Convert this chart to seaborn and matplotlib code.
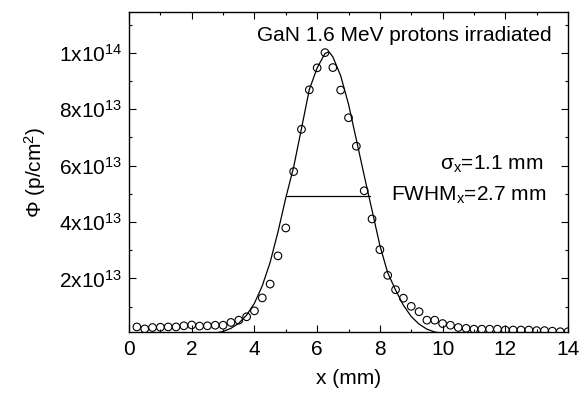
import numpy as np
import pandas as pd
import matplotlib
matplotlib.use("Agg")
import matplotlib.pyplot as plt
from matplotlib.ticker import FixedLocator, FixedFormatter, MultipleLocator
import seaborn as sns

# ---- data (fluence in units of 1e13 p/cm^2) ----
meas_x = [0.25, 0.5, 0.75, 1.0, 1.25, 1.5, 1.75, 2.0, 2.25, 2.5, 2.75, 3.0,
          3.25, 3.5, 3.75, 4.0, 4.25, 4.5, 4.75, 5.0, 5.25, 5.5, 5.75, 6.0,
          6.25, 6.5, 6.75, 7.0, 7.25, 7.5, 7.75, 8.0, 8.25, 8.5, 8.75, 9.0,
          9.25, 9.5, 9.75, 10.0, 10.25, 10.5, 10.75, 11.0, 11.25, 11.5, 11.75,
          12.0, 12.25, 12.5, 12.75, 13.0, 13.25, 13.5, 13.75, 14.0]
meas_y = [0.28, 0.21, 0.26, 0.27, 0.28, 0.28, 0.32, 0.35, 0.31, 0.32, 0.34, 0.34,
          0.44, 0.52, 0.64, 0.85, 1.31, 1.80, 2.80, 3.79, 5.79, 7.29, 8.69, 9.47,
          10.01, 9.48, 8.68, 7.70, 6.69, 5.11, 4.11, 3.02, 2.11, 1.60, 1.30, 1.01,
          0.82, 0.52, 0.52, 0.40, 0.34, 0.26, 0.23, 0.20, 0.20, 0.20, 0.20,
          0.17, 0.17, 0.17, 0.17, 0.15, 0.15, 0.13, 0.11, 0.11]

fit_x = [0.0, 2.25, 2.5, 2.75, 3.0, 3.25, 3.5, 3.75, 4.0, 4.25, 4.5, 4.75, 5.0,
         5.25, 5.5, 5.75, 6.0, 6.25, 6.375, 6.5, 6.75, 7.0, 7.25, 7.5, 7.75,
         8.0, 8.25, 8.5, 8.75, 9.0, 9.25, 9.5, 9.75, 10.0, 10.25, 10.5, 14.0]
fit_y = [0.0, 0.01, 0.03, 0.06, 0.12, 0.23, 0.41, 0.70, 1.12, 1.74, 2.57, 3.65, 4.86,
         5.95, 7.32, 8.70, 9.47, 9.98, 10.04, 9.86, 9.19, 8.18, 6.92, 5.65, 4.42,
         3.17, 2.20, 1.59, 1.05, 0.65, 0.38, 0.20, 0.10, 0.05, 0.02, 0.0, 0.0]

fwhm_x = [5.03, 7.68]
fwhm_y = [4.93, 4.93]

scale = 1e13
xticks = [0, 2, 4, 6, 8, 10, 12, 14]
xtick_labels = ["0", "2", "4", "6", "8", "10", "12", "14"]
yticks = [2e13, 4e13, 6e13, 8e13, 1e14]
ytick_labels = ["2x10$^{13}$", "4x10$^{13}$", "6x10$^{13}$", "8x10$^{13}$", "1x10$^{14}$"]

title_text = "GaN 1.6 MeV protons irradiated"
sigma_text = "σ$_{\\mathrm{x}}$=1.1 mm"
fwhm_text = "FWHM$_{\\mathrm{x}}$=2.7 mm"

meas = pd.DataFrame({"x": meas_x, "y": np.array(meas_y) * scale})
fit = pd.DataFrame({"x": fit_x, "y": np.array(fit_y) * scale})
fw = pd.DataFrame({"x": fwhm_x, "y": np.array(fwhm_y) * scale})

sns.set_theme(style="ticks")
plt.rcParams["font.family"] = ["Liberation Sans", "DejaVu Sans"]
plt.rcParams["mathtext.fontset"] = "custom"
plt.rcParams["mathtext.rm"] = "Liberation Sans"
plt.rcParams["mathtext.it"] = "Liberation Sans:italic"
plt.rcParams["mathtext.bf"] = "Liberation Sans:bold"

fs = 15
fig = plt.figure(figsize=(5.83, 3.93), dpi=100)
ax = fig.add_axes([0.2213, 0.1552, 0.7530, 0.8142])

sns.lineplot(data=fit, x="x", y="y", ax=ax, color="black", lw=0.9, sort=False,
             estimator=None)
sns.lineplot(data=fw, x="x", y="y", ax=ax, color="black", lw=0.9, sort=False,
             estimator=None)
sns.scatterplot(data=meas, x="x", y="y", ax=ax, marker="o", s=30,
                facecolor="none", edgecolor="black", linewidth=0.8, zorder=3)

ax.set_xlim(0, 14)
ax.set_ylim(0.1e13, 11.45e13)

ax.xaxis.set_major_locator(FixedLocator(xticks))
ax.xaxis.set_major_formatter(FixedFormatter(xtick_labels))
ax.xaxis.set_minor_locator(MultipleLocator(1))
ax.yaxis.set_major_locator(FixedLocator(yticks))
ax.yaxis.set_major_formatter(FixedFormatter(ytick_labels))
ax.yaxis.set_minor_locator(MultipleLocator(1e13))

ax.tick_params(which="both", direction="in", top=True, right=True,
               color="black", width=0.8, labelsize=fs, labelcolor="black")
ax.tick_params(which="major", length=5)
ax.tick_params(which="minor", length=2.5)
ax.tick_params(axis="x", which="major", pad=6)
ax.tick_params(axis="y", which="major", pad=5)

for sp in ax.spines.values():
    sp.set_linewidth(1.0)
    sp.set_color("black")

ax.set_xlabel("x (mm)", fontsize=fs, color="black", labelpad=7)
ax.set_ylabel("Φ (p/cm$^{2}$)", fontsize=fs, color="black", labelpad=8)

ax.text(0.963, 0.909, title_text, transform=ax.transAxes, ha="right",
        va="baseline", fontsize=fs, color="black")
ax.text(0.943, 0.508, sigma_text, transform=ax.transAxes, ha="right",
        va="baseline", fontsize=fs, color="black")
ax.text(0.951, 0.410, fwhm_text, transform=ax.transAxes, ha="right",
        va="baseline", fontsize=fs, color="black")

fig.savefig("out.png", dpi=100)
